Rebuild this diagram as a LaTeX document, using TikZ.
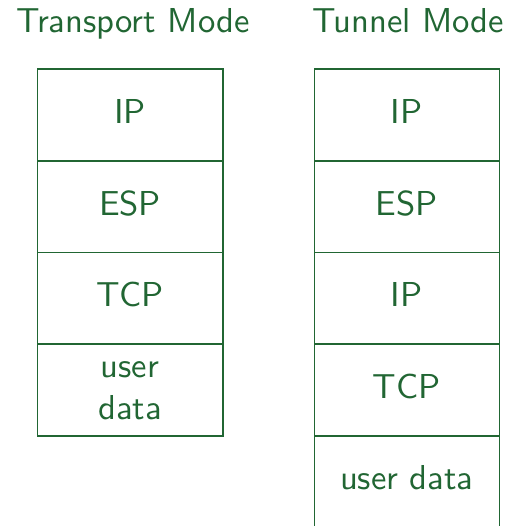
\documentclass[tikz,border=0pt]{standalone}
\usepackage{fontspec}
\definecolor{dg}{RGB}{33,102,51}
\tikzset{
  stackbox/.style={draw=dg, line width=1.6pt, minimum width=185.4pt, minimum height=91.6pt, inner sep=0pt, outer sep=0pt, anchor=north west},
  lbl/.style={text=dg, font=\fontsize{10}{12}\selectfont\sffamily, scale=3.46, anchor=base, inner sep=0pt, outer sep=0pt}
}
\begin{document}
\begin{tikzpicture}[x=1pt,y=-1pt]
\useasboundingbox (0,0) rectangle (507,526);
\clip (0,0) rectangle (507,526);
% titles
\node[lbl] (t1) at (133,32.3) {Transport Mode};
\node[lbl] (t2) at (408.5,32.3) {Tunnel Mode};
% left stack
\node[stackbox] (a1) at (37.3,69.3) {};
\node[stackbox] (a2) at (37.3,160.9) {};
\node[stackbox] (a3) at (37.3,252.5) {};
\node[stackbox] (a4) at (37.3,344.1) {};
\node[lbl] (la1) at ([yshift=-8.5pt]a1.center) {IP};
\node[lbl] (la2) at ([yshift=-8.5pt]a2.center) {ESP};
\node[lbl] (la3) at ([yshift=-8.5pt]a3.center) {TCP};
\node[lbl] (la4) at ([yshift=12.2pt]a4.center) {\begin{tabular}[t]{@{}c@{}}user\\data\end{tabular}};
% right stack
\node[stackbox, minimum width=185pt] (b1) at (314.3,69.3) {};
\node[stackbox, minimum width=185pt] (b2) at (314.3,160.9) {};
\node[stackbox, minimum width=185pt] (b3) at (314.3,252.5) {};
\node[stackbox, minimum width=185pt] (b4) at (314.3,344.1) {};
\node[stackbox, minimum width=185pt] (b5) at (314.3,435.7) {};
\node[lbl] (lb1) at ([yshift=-8.5pt]b1.center) {IP};
\node[lbl] (lb2) at ([yshift=-8.5pt]b2.center) {ESP};
\node[lbl] (lb3) at ([yshift=-8.5pt]b3.center) {IP};
\node[lbl] (lb4) at ([yshift=-8.5pt]b4.center) {TCP};
\node[lbl] (lb5) at ([yshift=-7.8pt]b5.center) {user data};
\end{tikzpicture}
\end{document}
